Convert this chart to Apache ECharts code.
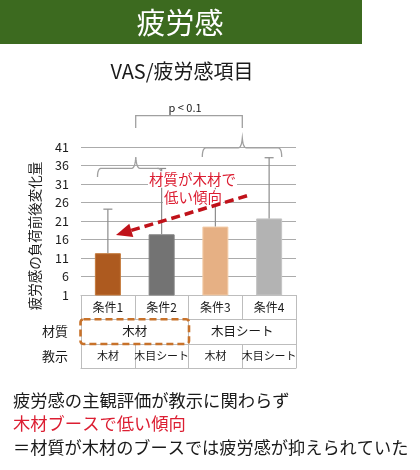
<!DOCTYPE html>
<html>
<head>
<meta charset="utf-8">
<script src="https://cdn.jsdelivr.net/npm/echarts@6/dist/echarts.min.js"></script>
<style>
html,body{margin:0;padding:0;background:#fff;}
#chart{width:420px;height:470px;}
</style>
</head>
<body>
<div id="chart"></div>
<script>
// ---- data ----
const categories = ['条件1', '条件2', '条件3', '条件4'];
const meanValues = [12.3, 17.4, 19.5, 21.7];
const upperValues = [24.2, 35.2, 31.5, 38.1];
const materialLabels = ['木材', '木目シート'];
const instructionLabels = ['木材', '木目シート', '木材', '木目シート'];
const barColors = ['#AD5A1F', '#737373', '#E6B084', '#B3B3B3'];
const barBorders = ['#C4793B', '#808080', '#F3CCA8', '#C4C4C4'];
const yMin = 1, yMax = 41, yStep = 5;

const FONT = '"Noto Sans CJK JP", "Noto Sans", sans-serif';
const TABLE_LINE = '#BDBDBD';
const RED = '#DC1E32';

const chart = echarts.init(document.getElementById('chart'), null, {renderer: 'canvas'});

// curly-brace shape as polyline points (left x, right x, spike x, baseline y, leg y, peak y)
function brace(xl, xr, xm, y, yLeg, yPeak) {
  const pts = [];
  function quad(p0, c, p1) {
    for (let t = 0; t <= 1.0001; t += 0.125) {
      const a = (1 - t) * (1 - t), b = 2 * (1 - t) * t, d = t * t;
      pts.push([a * p0[0] + b * c[0] + d * p1[0], a * p0[1] + b * c[1] + d * p1[1]]);
    }
  }
  quad([xl, yLeg], [xl, y], [xl + 4, y]);
  quad([xm - 4, y], [xm - 0.8, y], [xm, yPeak]);
  quad([xm, yPeak], [xm + 0.8, y], [xm + 4, y]);
  quad([xr - 4, y], [xr, y], [xr, yLeg]);
  return pts;
}

function tableAxis(data, offset, fontSize, tickLen, showLabel) {
  return {
    type: 'category',
    data: data,
    position: 'bottom',
    offset: offset,
    gridIndex: 0,
    boundaryGap: true,
    axisLine: {show: true, lineStyle: {color: TABLE_LINE, width: 1}},
    axisTick: {show: tickLen > 0, length: tickLen, alignWithLabel: false, interval: 0,
               lineStyle: {color: TABLE_LINE, width: 1}},
    axisLabel: {show: showLabel, interval: 0, margin: 6, fontSize: fontSize,
                color: '#1a1a1a', fontFamily: FONT},
    splitLine: {show: false}
  };
}

const option = {
  animation: false,
  backgroundColor: '#fff',
  grid: {left: 81, right: 124, top: 147, bottom: 175, containLabel: false},
  xAxis: [
    tableAxis(categories, 0, 12, 24, true),
    tableAxis(materialLabels, 24, 12.5, 25, true),
    tableAxis(instructionLabels, 49, 11, 24, true),
    tableAxis([''], 73, 11, 0, false)
  ],
  yAxis: {
    type: 'value',
    min: yMin, max: yMax, interval: yStep,
    axisLine: {show: false},
    axisTick: {show: false},
    axisLabel: {fontSize: 12.5, color: '#1a1a1a', margin: 12, fontFamily: FONT},
    splitLine: {show: true, lineStyle: {color: '#ABABAB', width: 1.2}}
  },
  series: [
    {
      type: 'bar',
      xAxisIndex: 0,
      barWidth: 26,
      data: meanValues.map((v, i) => ({
        value: v,
        itemStyle: {color: barColors[i], borderColor: barBorders[i], borderWidth: 1}
      })),
      z: 2
    },
    {
      type: 'custom',
      xAxisIndex: 0,
      z: 3,
      data: meanValues.map((v, i) => [i, v, upperValues[i]]),
      renderItem: function (params, api) {
        const i = api.value(0);
        const base = api.coord([i, api.value(1)]);
        const top = api.coord([i, api.value(2)]);
        const style = {stroke: '#8C8C8C', lineWidth: 1.2};
        return {
          type: 'group',
          children: [
            {type: 'line', shape: {x1: base[0], y1: base[1], x2: top[0], y2: top[1]}, style: style},
            {type: 'line', shape: {x1: top[0] - 4.5, y1: top[1], x2: top[0] + 4.5, y2: top[1]}, style: style}
          ]
        };
      }
    }
  ],
  graphic: [
    // title bar
    {type: 'rect', shape: {x: 0, y: 0, width: 362, height: 44}, style: {fill: '#3C6A1F'}, z: 10},
    {type: 'text', x: 180, y: 23, z: 11,
     style: {text: '疲労感', fill: '#fff', fontSize: 29, fontFamily: FONT, align: 'center', verticalAlign: 'middle'}},
    // subtitle
    {type: 'text', x: 182, y: 71, z: 11,
     style: {text: 'VAS/疲労感項目', fill: '#1a1a1a', fontSize: 20, fontFamily: FONT, align: 'center', verticalAlign: 'middle'}},
    // significance
    {type: 'text', x: 185, y: 108, z: 11,
     style: {text: 'p < 0.1', fill: '#1a1a1a', fontSize: 11, fontFamily: FONT, align: 'center', verticalAlign: 'middle'}},
    {type: 'polyline', z: 11, shape: {points: [[135.7, 128], [135.7, 115.7], [242.3, 115.7], [242.3, 128]]},
     style: {stroke: '#A0A0A0', lineWidth: 1.3, fill: null}},
    {type: 'polyline', z: 11, shape: {points: brace(202.3, 281.7, 242.3, 147.8, 157, 138)},
     style: {stroke: '#A0A0A0', lineWidth: 1.3, fill: null}},
    {type: 'polyline', z: 11, shape: {points: brace(97.5, 161.7, 135.8, 168.3, 177, 157)},
     style: {stroke: '#A0A0A0', lineWidth: 1.3, fill: null}},
    // annotation text
    {type: 'text', x: 192.5, y: 179.5, z: 20,
     style: {text: '材質が木材で', fill: RED, fontSize: 14.5, fontFamily: FONT, align: 'center', verticalAlign: 'middle',
             backgroundColor: '#fff', padding: [1, 1]}},
    {type: 'text', x: 193, y: 197.5, z: 20,
     style: {text: '低い傾向', fill: RED, fontSize: 14.5, fontFamily: FONT, align: 'center', verticalAlign: 'middle',
             backgroundColor: '#fff', padding: [1, 1]}},
    // arrow
    {type: 'line', z: 21, shape: {x1: 247, y1: 195.8, x2: 131.3, y2: 230.4},
     style: {stroke: '#C0121A', lineWidth: 3.6, lineDash: [9, 5]}},
    {type: 'polygon', z: 21, shape: {points: [[116, 235], [133.3, 237.1], [129.3, 223.7]]},
     style: {fill: '#C0121A'}},
    // y axis title
    {type: 'text', x: 35, y: 236, rotation: Math.PI / 2, z: 11,
     style: {text: '疲労感の負荷前後変化量', fill: '#1a1a1a', fontSize: 13.5, fontFamily: FONT, align: 'center', verticalAlign: 'middle'}},
    // table row labels
    {type: 'text', x: 68, y: 331.5, z: 11,
     style: {text: '材質', fill: '#1a1a1a', fontSize: 13, fontFamily: FONT, align: 'right', verticalAlign: 'middle'}},
    {type: 'text', x: 68, y: 356, z: 11,
     style: {text: '教示', fill: '#1a1a1a', fontSize: 13, fontFamily: FONT, align: 'right', verticalAlign: 'middle'}},
    // dashed highlight box
    {type: 'rect', z: 22, shape: {x: 80.5, y: 319.3, width: 108.5, height: 24.7, r: 3},
     style: {fill: null, stroke: '#C8722A', lineWidth: 2.6, lineDash: [7, 4]}},
    // bottom notes
    {type: 'text', x: 13, y: 400, z: 11,
     style: {text: '疲労感の主観評価が教示に関わらず', fill: '#1a1a1a', fontSize: 17.3, fontFamily: FONT, align: 'left', verticalAlign: 'middle'}},
    {type: 'text', x: 13, y: 423.5, z: 11,
     style: {text: '木材ブースで低い傾向', fill: RED, fontSize: 17.3, fontFamily: FONT, align: 'left', verticalAlign: 'middle'}},
    {type: 'text', x: 13, y: 447.5, z: 11,
     style: {text: '＝材質が木材のブースでは疲労感が抑えられていた', fill: '#1a1a1a', fontSize: 17.2, fontFamily: FONT, align: 'left', verticalAlign: 'middle'}}
  ]
};

chart.setOption(option);
</script>
</body>
</html>
